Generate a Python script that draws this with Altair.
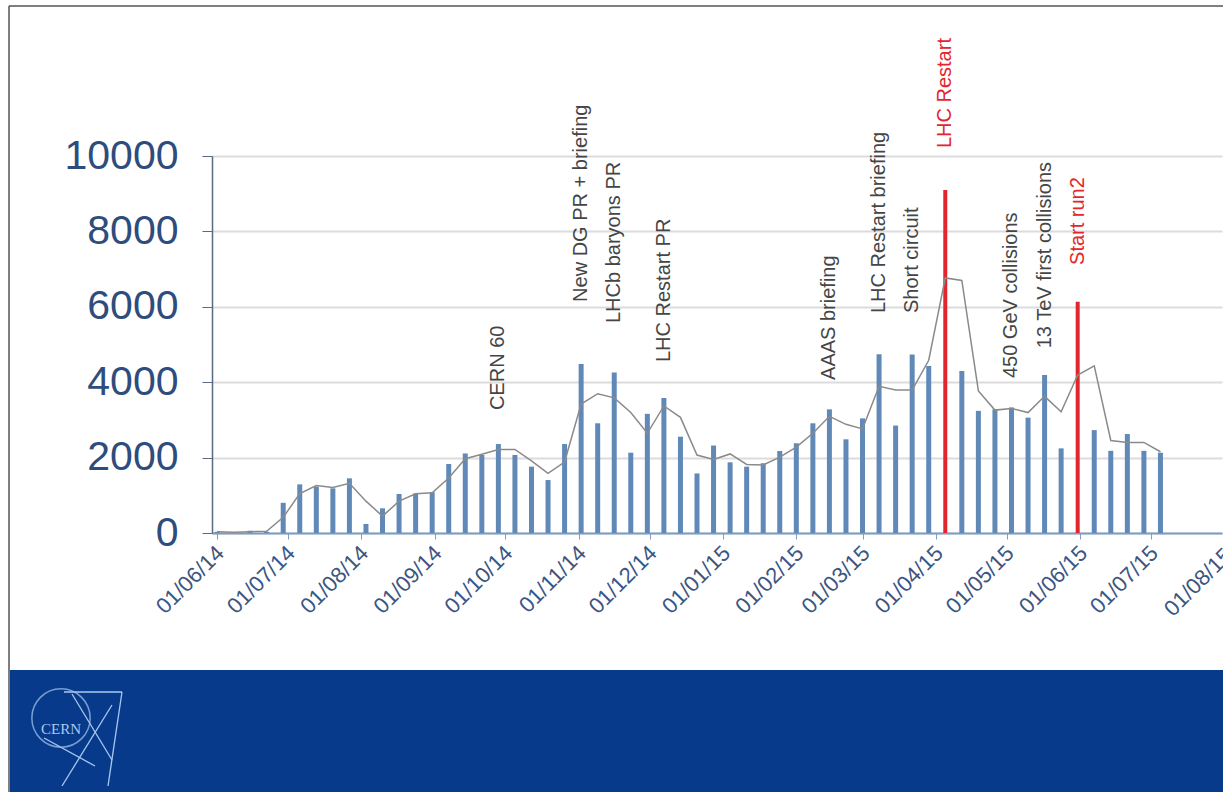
import altair as alt
import pandas as pd

# ---------------- data ----------------
week_start = pd.date_range("2014-06-01", periods=58, freq="7D").strftime("%Y-%m-%d").tolist()
visits = [30, 10, 60, 30, 800, 1290, 1230, 1185, 1450, 240, 655, 1035, 1050, 1085,
          1830, 2110, 2070, 2360, 2070, 1760, 1405, 2360, 4480, 2910, 4260, 2130,
          3160, 3580, 2555, 1580, 2320, 1875, 1760, 1850, 2175, 2380, 2910, 3280,
          2485, 3040, 4740, 2850, 4735, 4430, 9100, 4300, 3240, 3280, 3330, 3060,
          4190, 2245, 6135, 2730, 2180, 2625, 2180, 2130]
red_weeks = ["2015-04-05", "2015-05-31"]

ann_labels = ["CERN 60", "New DG PR + briefing", "LHCb baryons PR", "LHC Restart PR",
              "AAAS briefing", "LHC Restart briefing", "Short circuit", "LHC Restart",
              "450 GeV collisions", "13 TeV first collisions", "Start run2"]
ann_dates = ["2014-09-28", "2014-11-02", "2014-11-16", "2014-12-07", "2015-02-15",
             "2015-03-08", "2015-03-22", "2015-04-05", "2015-05-03", "2015-05-17",
             "2015-05-31"]
ann_base = [3260, 6130, 5570, 4535, 4060, 5835, 5835, 10210, 4110, 4900, 7110]
ann_red = [0, 0, 0, 0, 0, 0, 0, 1, 0, 0, 1]

y_ticks = [0, 2000, 4000, 6000, 8000, 10000]
x_ticks = [(2014, m) for m in range(6, 13)] + [(2015, m) for m in range(1, 8)]
x_last_tick = ["2015-08-01"]   # tick just beyond the visible right edge (cut off)

df = pd.DataFrame({"week": week_start, "visits": visits})
df["red"] = df["week"].isin(red_weeks).astype(int)
ann = pd.DataFrame({"label": ann_labels, "date": ann_dates, "base": ann_base, "red": ann_red})
last_df = pd.DataFrame({"date": x_last_tick})
one = pd.DataFrame({"a": [0]})

# ---------------- layout ----------------
W, H = 1010, 377
LEFT, TOP = 212, 156
TOTAL_W, TOTAL_H = 1223, 792

FONT = "Liberation Sans"
BLUE_BAR = "#6089B8"
RED = "#E3262B"
XLAB = "#3B5683"
XFS = 22
TICK = 6
LPAD = 3

x_scale = alt.Scale(
    type="utc",
    domain=[alt.DateTime(year=2014, month=6, date=1, utc=True),
            alt.DateTime(year=2015, month=7, date=28, hours=22, utc=True)],
)
y_scale = alt.Scale(domain=[0, 10000], nice=False)

x_axis = alt.Axis(
    values=[alt.DateTime(year=y, month=m, date=1, utc=True) for y, m in x_ticks],
    labelExpr="utcFormat(datum.value, '%d/%m/%y')",
    labelAngle=-45, labelFontSize=XFS, labelAlign="right", labelBaseline="top",
    labelFont=FONT, labelColor=XLAB, tickColor="#7F9DC6", domainColor="#7F9DC6",
    domainWidth=2, tickSize=TICK, labelPadding=LPAD, labelOffset=-4, grid=False,
    title=None, labelOverlap=False, labelFlush=False,
)
y_axis = alt.Axis(
    values=y_ticks, format="d", labelFontSize=41, labelFont=FONT, labelColor="#2E4C7C",
    labelPadding=24, tickSize=10, tickColor="#5A6A80", domainColor="#5A6A80",
    domainWidth=1.5, gridColor="#DCDCDC", gridWidth=2, title=None,
)


def X(field):
    return alt.X(field, scale=x_scale, axis=x_axis)


def Y(field):
    return alt.Y(field, scale=y_scale, axis=y_axis)


base = alt.Chart(df)

bars_blue = base.transform_filter("datum.red == 0").mark_bar(size=5, color=BLUE_BAR).encode(
    x=X("week:T"), y=Y("visits:Q"),
)
bars_red = base.transform_filter("datum.red == 1").mark_bar(size=4, color=RED).encode(
    x=X("week:T"), y=Y("visits:Q"),
)
ma_line = base.transform_window(
    ma="mean(visits)", frame=[-1, 0], sort=[alt.SortField("week")]
).mark_line(color="#8A8A8A", strokeWidth=1.5).encode(
    x=X("week:T"), y=Y("ma:Q"),
)

ann_chart = alt.Chart(ann)
ann_gray = ann_chart.transform_filter("datum.red == 0").mark_text(
    angle=270, align="left", baseline="middle", fontSize=20, font=FONT, color="#454545"
).encode(x=X("date:T"), y=Y("base:Q"), text="label:N")
ann_redt = ann_chart.transform_filter("datum.red == 1").mark_text(
    angle=270, align="left", baseline="middle", fontSize=20, font=FONT, color=RED
).encode(x=X("date:T"), y=Y("base:Q"), text="label:N")

# label of the last month tick, which sits just past the right edge and is cut off
last_label = alt.Chart(last_df).transform_calculate(
    lab="utcFormat(datetime(datum.date), '%d/%m/%y')"
).mark_text(
    angle=315, align="right", baseline="top", fontSize=XFS, font=FONT, color=XLAB, dx=-4
).encode(x=X("date:T"), y=alt.value(H + TICK + LPAD), text="lab:N")

# ---------------- slide decorations (pixel positions relative to plot origin) ----------------
def px(v):
    return alt.value(v - LEFT)


def py(v):
    return alt.value(v - TOP)


footer = alt.Chart(one).mark_rect(color="#083A8C").encode(
    x=px(10), x2=px(TOTAL_W + 5), y=py(670), y2=py(TOTAL_H + 5)
)
frame_left = alt.Chart(one).mark_rule(color="#555555", strokeWidth=1.5).encode(
    x=px(9), y=py(6), y2=py(TOTAL_H + 5)
)
frame_top = alt.Chart(one).mark_rule(color="#555555", strokeWidth=1.5).encode(
    x=px(9), x2=px(TOTAL_W + 5), y=py(6)
)
LOGO = "#A9C9EE"
logo_circle = alt.Chart(one).mark_point(
    shape="circle", filled=False, size=3400, color=LOGO, strokeWidth=1.5
).encode(x=px(61), y=py(718))
logo_text = alt.Chart(one).mark_text(
    text="CERN", font="Liberation Serif", fontSize=15, color=LOGO
).encode(x=px(61), y=py(729))
logo_l1 = alt.Chart(one).mark_rule(color=LOGO, strokeWidth=1.3).encode(
    x=px(64), x2=px(122), y=py(692), y2=py(692))
logo_l2 = alt.Chart(one).mark_rule(color=LOGO, strokeWidth=1.3).encode(
    x=px(122), x2=px(108), y=py(692), y2=py(786))
logo_l3 = alt.Chart(one).mark_rule(color=LOGO, strokeWidth=1.3).encode(
    x=px(112), x2=px(62), y=py(705), y2=py(786))
logo_l4 = alt.Chart(one).mark_rule(color=LOGO, strokeWidth=1.3).encode(
    x=px(44), x2=px(95), y=py(738), y2=py(766))
logo_l5 = alt.Chart(one).mark_rule(color=LOGO, strokeWidth=1.3).encode(
    x=px(72), x2=px(112), y=py(694), y2=py(760))

chart = alt.layer(
    footer, frame_left, frame_top,
    bars_blue, bars_red, ma_line, ann_gray, ann_redt, last_label,
    logo_circle, logo_text, logo_l1, logo_l2, logo_l3, logo_l4, logo_l5,
).properties(
    width=W, height=H,
    autosize=alt.AutoSizeParams(type="none"),
    padding={"left": LEFT, "top": TOP, "right": TOTAL_W - LEFT - W,
             "bottom": TOTAL_H - TOP - H},
    background="white",
).configure_view(stroke=None)

chart.save("out.html", embed_options={"renderer": "svg", "actions": False})
